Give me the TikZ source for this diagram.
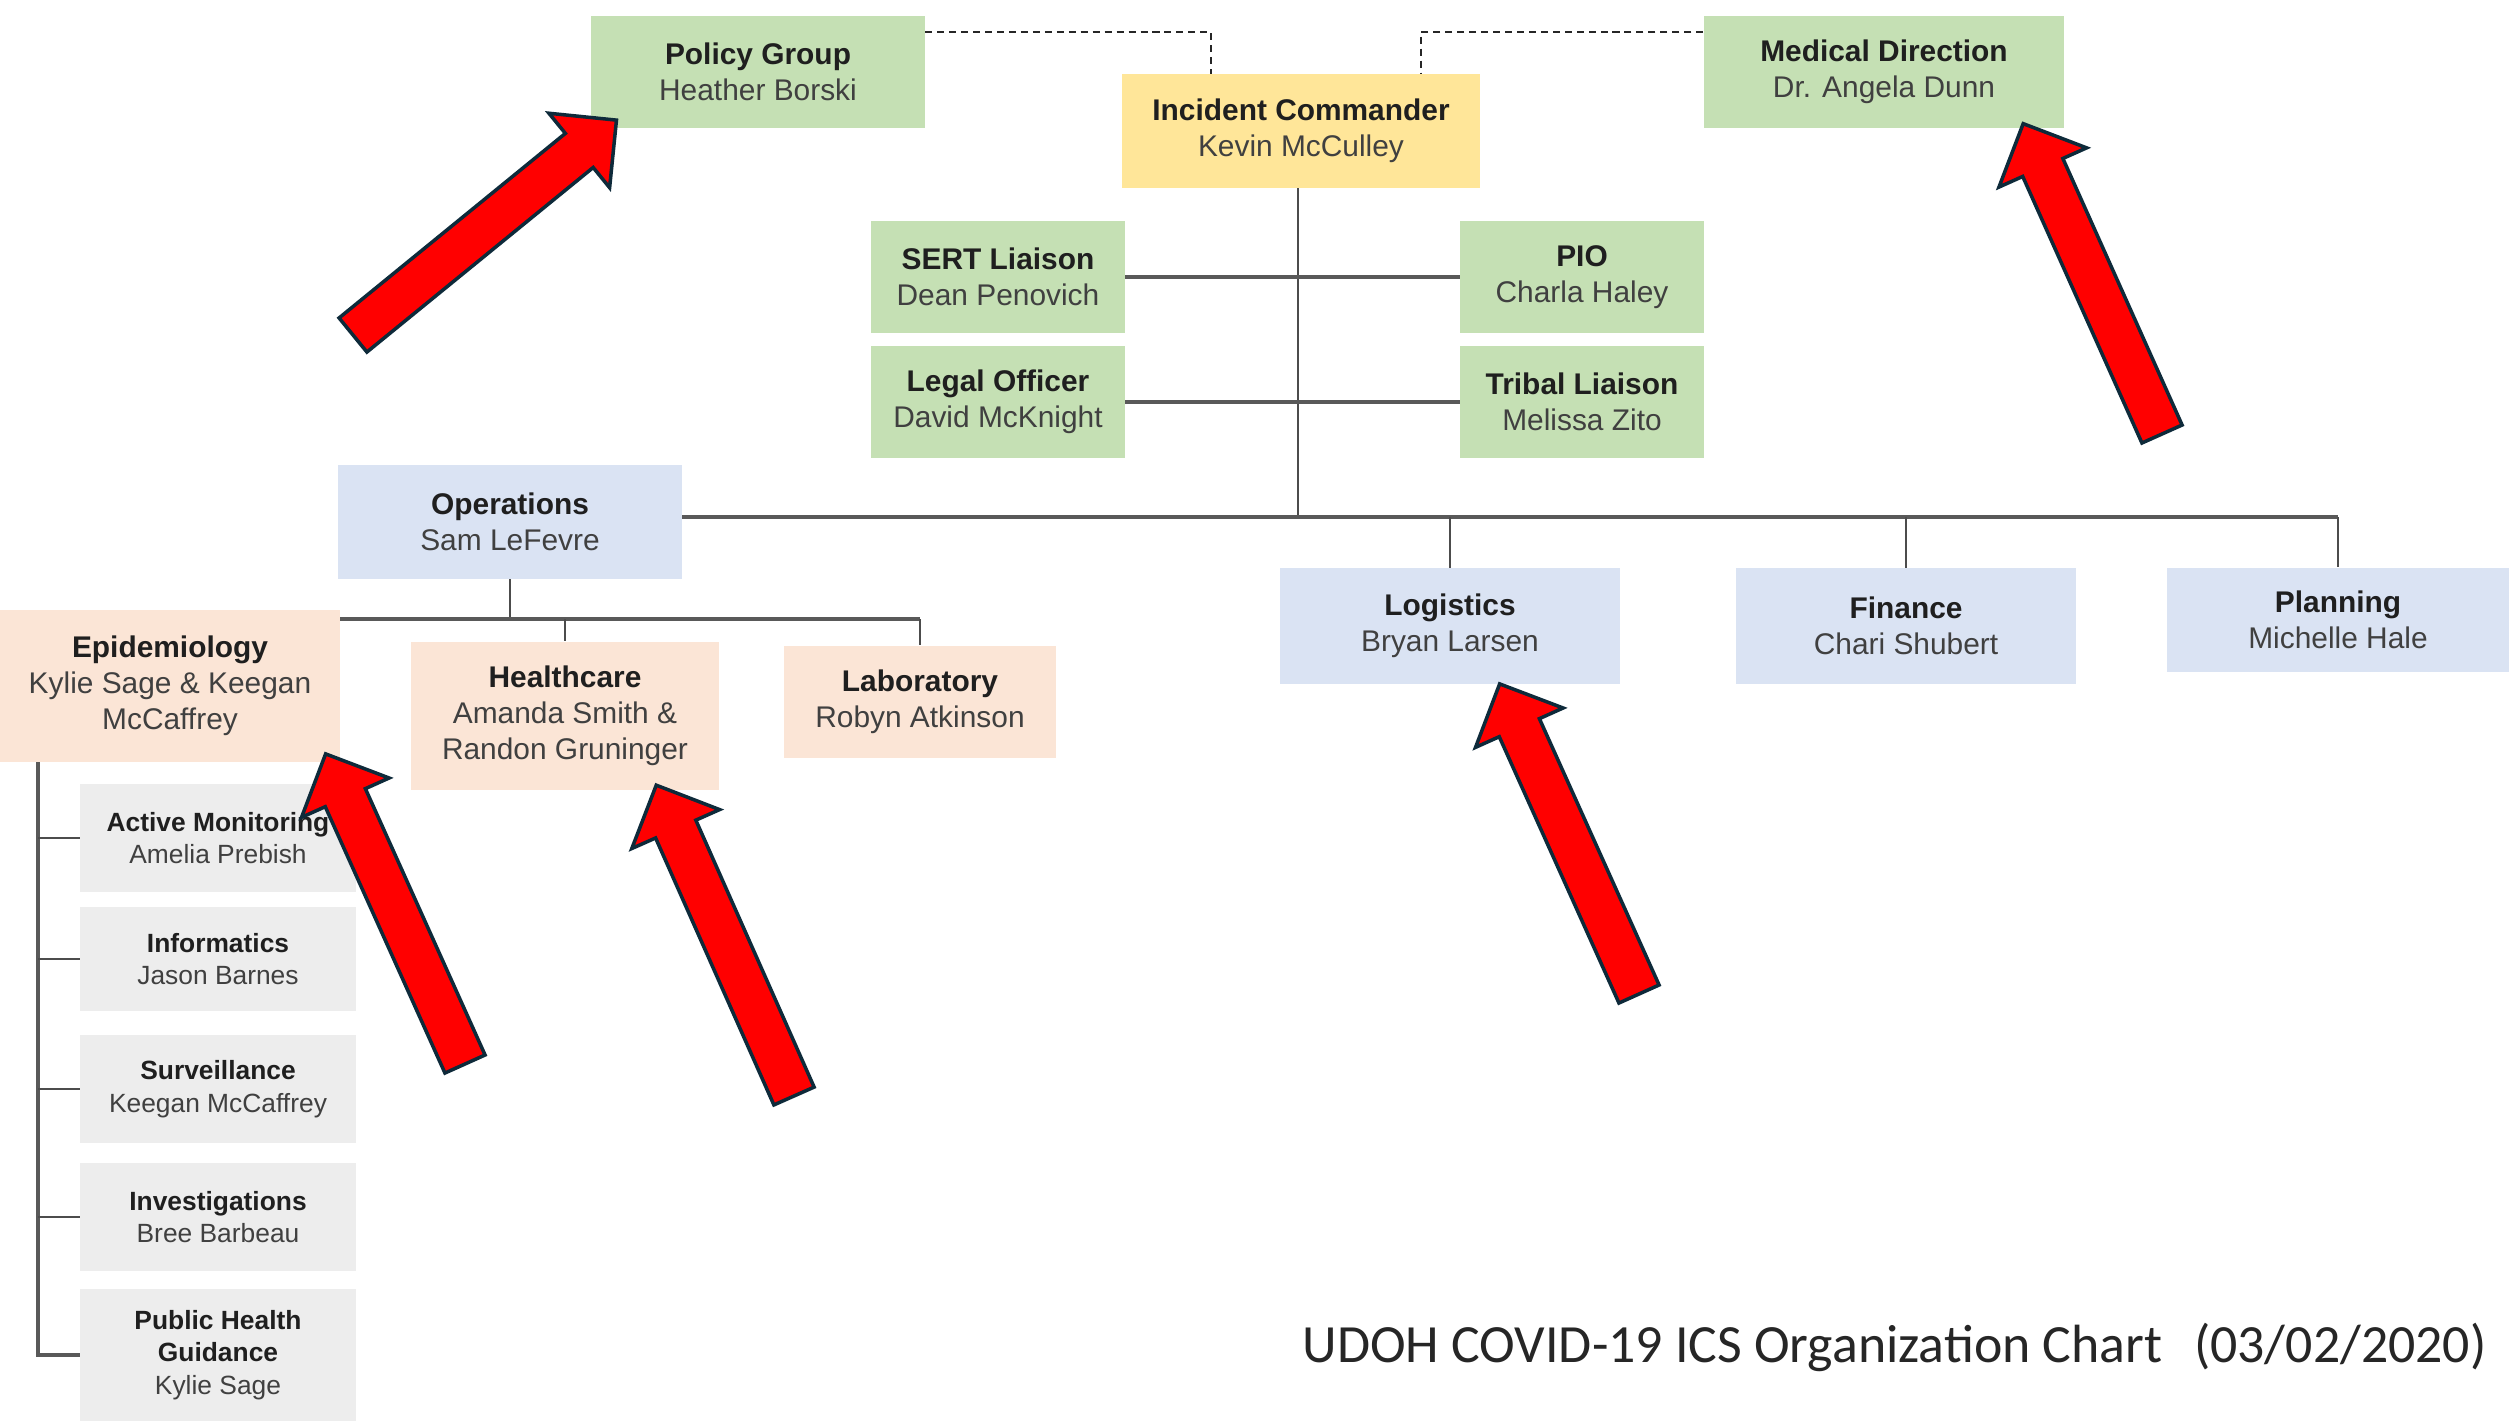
\documentclass[tikz,border=0pt]{standalone}
\usepackage{fontspec}
\setmainfont{Liberation Sans}
\newfontfamily\captionfont{Carlito}
\usepackage{xcolor}
\usetikzlibrary{positioning,calc}

\definecolor{boxgreen}{HTML}{C5E0B4}
\definecolor{boxyellow}{HTML}{FFE699}
\definecolor{boxblue}{HTML}{DAE3F3}
\definecolor{boxpeach}{HTML}{FBE5D6}
\definecolor{boxgray}{HTML}{EDEDED}
\definecolor{namegray}{HTML}{404040}
\definecolor{linegray}{HTML}{595959}
\definecolor{arrowedge}{HTML}{0E2A3A}

\newcommand{\redarrow}[3]{%
  \begin{scope}[shift={(#1,#2)},rotate=#3]
    \draw[bigarrow] (0,-22) -- (292,-22) -- (292,-48) -- (340,0) -- (292,48) -- (292,22) -- (0,22) -- cycle;
  \end{scope}}

\begin{document}
\begin{tikzpicture}[x=0.01cm,y=-0.01cm,
  bx/.style={inner sep=0pt,align=center,text=black!88,
    font=\fontsize{8.5}{10.2}\selectfont},
  sub/.style={bx,fill=boxgray,minimum width=2.75cm,
    font=\fontsize{7.5}{9.2}\selectfont},
  busline/.style={linegray,line width=1.1pt},
  drop/.style={black!70,line width=0.6pt},
  dashline/.style={black!85,line width=0.8pt,dash pattern=on 2pt off 1.4pt},
  bigarrow/.style={fill=red,draw=arrowedge,line width=1pt,line join=miter}]
\useasboundingbox[fill=white] (0,0) rectangle (2509,1421);

\node[bx,fill=boxgreen,minimum width=3.33cm,minimum height=1.12cm] (pg) at (758,72)
  {\textbf{Policy Group}\\{\color{namegray}Heather Borski}};
\node[bx,fill=boxyellow,minimum width=3.57cm,minimum height=1.13cm] (ic) at (1301,131)
  {\textbf{Incident Commander}\\{\color{namegray}Kevin McCulley}};
\node[bx,fill=boxgreen,minimum width=3.60cm,minimum height=1.12cm] (md) at (1884,72)
  {\textbf{Medical Direction}\\{\color{namegray}Dr. Angela Dunn}};

\node[bx,fill=boxgreen,minimum width=2.53cm,minimum height=1.12cm] (sert) at (998,277)
  {\textbf{SERT Liaison}\\{\color{namegray}Dean Penovich}};
\node[bx,fill=boxgreen,minimum width=2.43cm,minimum height=1.12cm] (pio) at (1582,277)
  {\textbf{PIO}\\{\color{namegray}Charla Haley}};
\node[bx,fill=boxgreen,minimum width=2.53cm,minimum height=1.12cm] (legal) at (998,402)
  {\textbf{Legal Officer}\\{\color{namegray}David McKnight}};
\node[bx,fill=boxgreen,minimum width=2.43cm,minimum height=1.12cm] (tribal) at (1582,402)
  {\textbf{Tribal Liaison}\\{\color{namegray}Melissa Zito}};

\node[bx,fill=boxblue,minimum width=3.43cm,minimum height=1.13cm] (ops) at (510,522)
  {\textbf{Operations}\\{\color{namegray}Sam LeFevre}};
\node[bx,fill=boxblue,minimum width=3.39cm,minimum height=1.15cm] (log) at (1450,626)
  {\textbf{Logistics}\\{\color{namegray}Bryan Larsen}};
\node[bx,fill=boxblue,minimum width=3.39cm,minimum height=1.15cm] (fin) at (1906,626)
  {\textbf{Finance}\\{\color{namegray}Chari Shubert}};
\node[bx,fill=boxblue,minimum width=3.41cm,minimum height=1.04cm] (plan) at (2338,620)
  {\textbf{Planning}\\{\color{namegray}Michelle Hale}};

\node[bx,fill=boxpeach,minimum width=3.39cm,minimum height=1.51cm] (epi) at (170,686)
  {\textbf{Epidemiology}\\{\color{namegray}Kylie Sage \& Keegan}\\{\color{namegray}McCaffrey}};
\node[bx,fill=boxpeach,minimum width=3.07cm,minimum height=1.48cm] (hc) at (565,716)
  {\textbf{Healthcare}\\{\color{namegray}Amanda Smith \&}\\{\color{namegray}Randon Gruninger}};
\node[bx,fill=boxpeach,minimum width=2.72cm,minimum height=1.12cm] (lab) at (920,702)
  {\textbf{Laboratory}\\{\color{namegray}Robyn Atkinson}};

\node[sub,minimum height=1.07cm] (am) at (218,838)
  {\textbf{Active Monitoring}\\{\color{namegray}Amelia Prebish}};
\node[sub,minimum height=1.04cm] (inf) at (218,959)
  {\textbf{Informatics}\\{\color{namegray}Jason Barnes}};
\node[sub,minimum height=1.07cm] (surv) at (218,1089)
  {\textbf{Surveillance}\\{\color{namegray}Keegan McCaffrey}};
\node[sub,minimum height=1.07cm] (inv) at (218,1217)
  {\textbf{Investigations}\\{\color{namegray}Bree Barbeau}};
\node[sub,minimum height=1.31cm] (phg) at (218,1355)
  {\textbf{Public Health}\\\textbf{Guidance}\\{\color{namegray}Kylie Sage}};

\node[anchor=base west,inner sep=0pt,text=black!85,
  font=\captionfont\fontsize{15.3}{18}\selectfont] (caption) at (1302,1362)
  {UDOH COVID-19 ICS Organization Chart\hspace{9pt}(03/02/2020)};

\coordinate (dl) at (1211,32);
\coordinate (dr) at (1421,32);
\coordinate (bus) at (1298,517);
\coordinate (opsbus) at (510,619);
\coordinate (epiv) at (38,762);

\draw[dashline] (pg.east |- dl) -- (dl) -- (dl |- ic.north);
\draw[dashline] (md.west |- dr) -- (dr) -- (dr |- ic.north);

\draw[drop] (bus |- ic.south) -- (bus);
\draw[busline] (sert.east) -- (pio.west);
\draw[busline] (legal.east) -- (tribal.west);
\draw[busline] (ops.east |- bus) -- (plan.north |- bus);
\draw[drop] (log.north |- bus) -- (log.north);
\draw[drop] (fin.north |- bus) -- (fin.north);
\draw[drop] (plan.north |- bus) -- (plan.north);

\draw[drop] (ops.south) -- (opsbus);
\draw[busline] (epi.east |- opsbus) -- (lab.north |- opsbus);
\draw[drop] (hc.north |- opsbus) -- (hc.north);
\draw[drop] (lab.north |- opsbus) -- (lab.north);

\draw[busline] (epiv) -- (epiv |- phg.west) -- (phg.west);
\foreach \b in {am,inf,surv,inv}
  \draw[drop] (epiv |- \b.west) -- (\b.west);

\redarrow{353}{335}{39.2}
\redarrow{2162}{434}{114.1}
\redarrow{465}{1064}{114.2}
\redarrow{794}{1096}{113.9}
\redarrow{1639}{994}{114.2}
\end{tikzpicture}
\end{document}
